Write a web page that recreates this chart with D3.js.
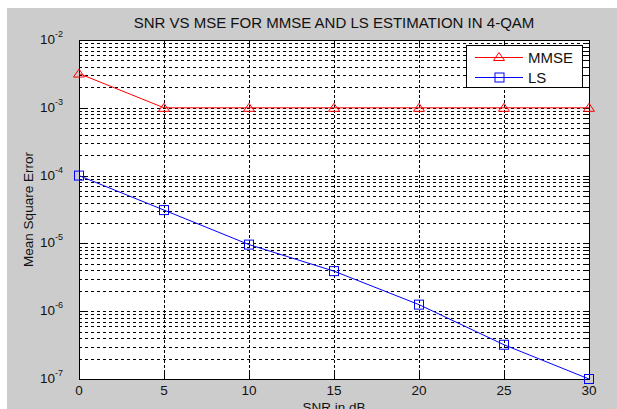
<!DOCTYPE html>
<html>
<head>
<meta charset="utf-8">
<script src="https://cdn.jsdelivr.net/npm/d3@7"></script>
<style>
  body { margin: 0; background: #fff; }
  text { font-family: Arial, "Liberation Sans", sans-serif; fill: #111; }
</style>
</head>
<body>
<div id="chart"></div>
<script>
var snr = [0, 5, 10, 15, 20, 25, 30];
var mmse = [3.2e-3, 1e-3, 1e-3, 1e-3, 1e-3, 1e-3, 1e-3];
var ls = [1e-4, 3.1e-5, 9.6e-6, 3.9e-6, 1.25e-6, 3.2e-7, 1e-7];
var xTicks = [0, 5, 10, 15, 20, 25, 30];
var yExps = [-2, -3, -4, -5, -6, -7];

var width = 617, height = 409;
var margins = { top: 40, right: 28, bottom: 30, left: 79 };
var chartWidth = width - margins.left - margins.right;
var chartHeight = height - margins.top - margins.bottom;

var svg = d3.select("#chart").append("svg")
  .attr("width", width)
  .attr("height", height);

// figure background
svg.append("rect")
  .attr("x", 7).attr("y", 8)
  .attr("width", width - 7).attr("height", height - 8)
  .style("fill", "#cccccc");

var xScale = d3.scaleLinear().domain([0, 30]).range([0, chartWidth]);
var yScale = d3.scaleLog().domain([1e-7, 1e-2]).range([chartHeight, 0]);

var g = svg.append("g")
  .attr("transform", "translate(" + margins.left + "," + margins.top + ")");

g.append("rect")
  .attr("width", chartWidth).attr("height", chartHeight)
  .style("fill", "#fff");

// grid
var yGrid = yScale.ticks().filter(d => d > 1e-7 && d < 1e-2);
g.selectAll(".ygrid").data(yGrid).join("line")
  .attr("class", "ygrid")
  .attr("x1", 0).attr("x2", chartWidth)
  .attr("y1", d => Math.round(yScale(d)) + 0.5)
  .attr("y2", d => Math.round(yScale(d)) + 0.5)
  .style("stroke", "#000")
  .style("stroke-dasharray", "3,3")
  .style("stroke-width", 1);

g.selectAll(".xgrid").data(xTicks.slice(1, -1)).join("line")
  .attr("class", "xgrid")
  .attr("y1", 0).attr("y2", chartHeight)
  .attr("x1", d => Math.round(xScale(d)) + 0.5)
  .attr("x2", d => Math.round(xScale(d)) + 0.5)
  .style("stroke", "#000")
  .style("stroke-dasharray", "3,2")
  .style("stroke-width", 1);

// ticks (inside, both sides)
var tickG = g.append("g").style("stroke", "#000");
xTicks.forEach(function(d) {
  var x = Math.round(xScale(d)) + 0.5;
  tickG.append("line").attr("x1", x).attr("x2", x).attr("y1", chartHeight).attr("y2", chartHeight - 6);
  tickG.append("line").attr("x1", x).attr("x2", x).attr("y1", 0).attr("y2", 6);
});
yScale.ticks().forEach(function(d) {
  var y = Math.round(yScale(d)) + 0.5;
  var major = Math.abs(Math.log10(d) - Math.round(Math.log10(d))) < 1e-9;
  var len = major ? 6 : 3;
  tickG.append("line").attr("x1", 0).attr("x2", len).attr("y1", y).attr("y2", y);
  tickG.append("line").attr("x1", chartWidth).attr("x2", chartWidth - len).attr("y1", y).attr("y2", y);
});

// axes box
g.append("rect")
  .attr("x", 0.5).attr("y", 0.5)
  .attr("width", chartWidth).attr("height", chartHeight)
  .style("fill", "none").style("stroke", "#000").style("stroke-width", 1);

// tick labels
g.selectAll(".xlabel").data(xTicks).join("text")
  .attr("class", "xlabel")
  .attr("x", d => xScale(d))
  .attr("y", chartHeight + 16)
  .style("text-anchor", "middle")
  .style("font-size", "13.5px")
  .text(d => d);

var yl = g.selectAll(".ylabel").data(yExps).join("text")
  .attr("class", "ylabel")
  .attr("x", -16)
  .attr("y", d => yScale(Math.pow(10, d)) + 4)
  .style("text-anchor", "end")
  .style("font-size", "13.5px");
yl.append("tspan").text("10");
yl.append("tspan").attr("dy", -7).style("font-size", "9px").text(d => String(d));

// lines
var line = d3.line().x(d => xScale(d[0])).y(d => yScale(d[1]));

var mmseData = snr.map((d, i) => [d, mmse[i]]);
var lsData = snr.map((d, i) => [d, ls[i]]);

g.append("path").datum(mmseData)
  .attr("d", line)
  .style("fill", "none").style("stroke", "#ff0000").style("stroke-width", 1);
g.append("path").datum(lsData)
  .attr("d", line)
  .style("fill", "none").style("stroke", "#0000ff").style("stroke-width", 1);

var tri = "M-5.5,3.5L5.5,3.5L0,-4.5Z";
g.selectAll(".mmse-mark").data(mmseData).join("path")
  .attr("class", "mmse-mark")
  .attr("transform", d => "translate(" + xScale(d[0]) + "," + yScale(d[1]) + ")")
  .attr("d", tri)
  .style("fill", "none").style("stroke", "#ff0000").style("stroke-width", 1);

g.selectAll(".ls-mark").data(lsData).join("rect")
  .attr("class", "ls-mark")
  .attr("x", d => xScale(d[0]) - 4.5)
  .attr("y", d => yScale(d[1]) - 4.5)
  .attr("width", 9).attr("height", 9)
  .style("fill", "none").style("stroke", "#0000ff").style("stroke-width", 1);

// legend
var legend = svg.append("g").attr("transform", "translate(466,45)");
legend.append("rect")
  .attr("x", 0.5).attr("y", 0.5)
  .attr("width", 116).attr("height", 42)
  .style("fill", "#fff").style("stroke", "#000");
var legendItems = [
  { label: "MMSE", color: "#ff0000", mark: "tri" },
  { label: "LS", color: "#0000ff", mark: "sq" }
];
legendItems.forEach(function(d, i) {
  var y = 12 + i * 20;
  legend.append("line")
    .attr("x1", 9).attr("x2", 57).attr("y1", y + 0.5).attr("y2", y + 0.5)
    .style("stroke", d.color);
  if (d.mark == "tri") {
    legend.append("path").attr("transform", "translate(33," + y + ")")
      .attr("d", tri).style("fill", "none").style("stroke", d.color);
  } else {
    legend.append("rect").attr("x", 29).attr("y", y - 4).attr("width", 9).attr("height", 9)
      .style("fill", "none").style("stroke", d.color);
  }
  legend.append("text")
    .attr("x", 62).attr("y", y + 5.5)
    .style("font-size", "15px")
    .text(d.label);
});

// title & axis labels
svg.append("text")
  .attr("x", margins.left + chartWidth / 2)
  .attr("y", 28)
  .style("text-anchor", "middle")
  .style("font-size", "15px")
  .text("SNR VS MSE FOR MMSE AND LS ESTIMATION IN 4-QAM");

svg.append("text")
  .attr("x", margins.left + chartWidth / 2)
  .attr("y", 412)
  .style("text-anchor", "middle")
  .style("font-size", "13.5px")
  .text("SNR in dB");

svg.append("text")
  .attr("transform", "translate(33," + (margins.top + chartHeight / 2) + ") rotate(-90)")
  .style("text-anchor", "middle")
  .style("font-size", "13.5px")
  .text("Mean Square Error");
</script>
</body>
</html>
